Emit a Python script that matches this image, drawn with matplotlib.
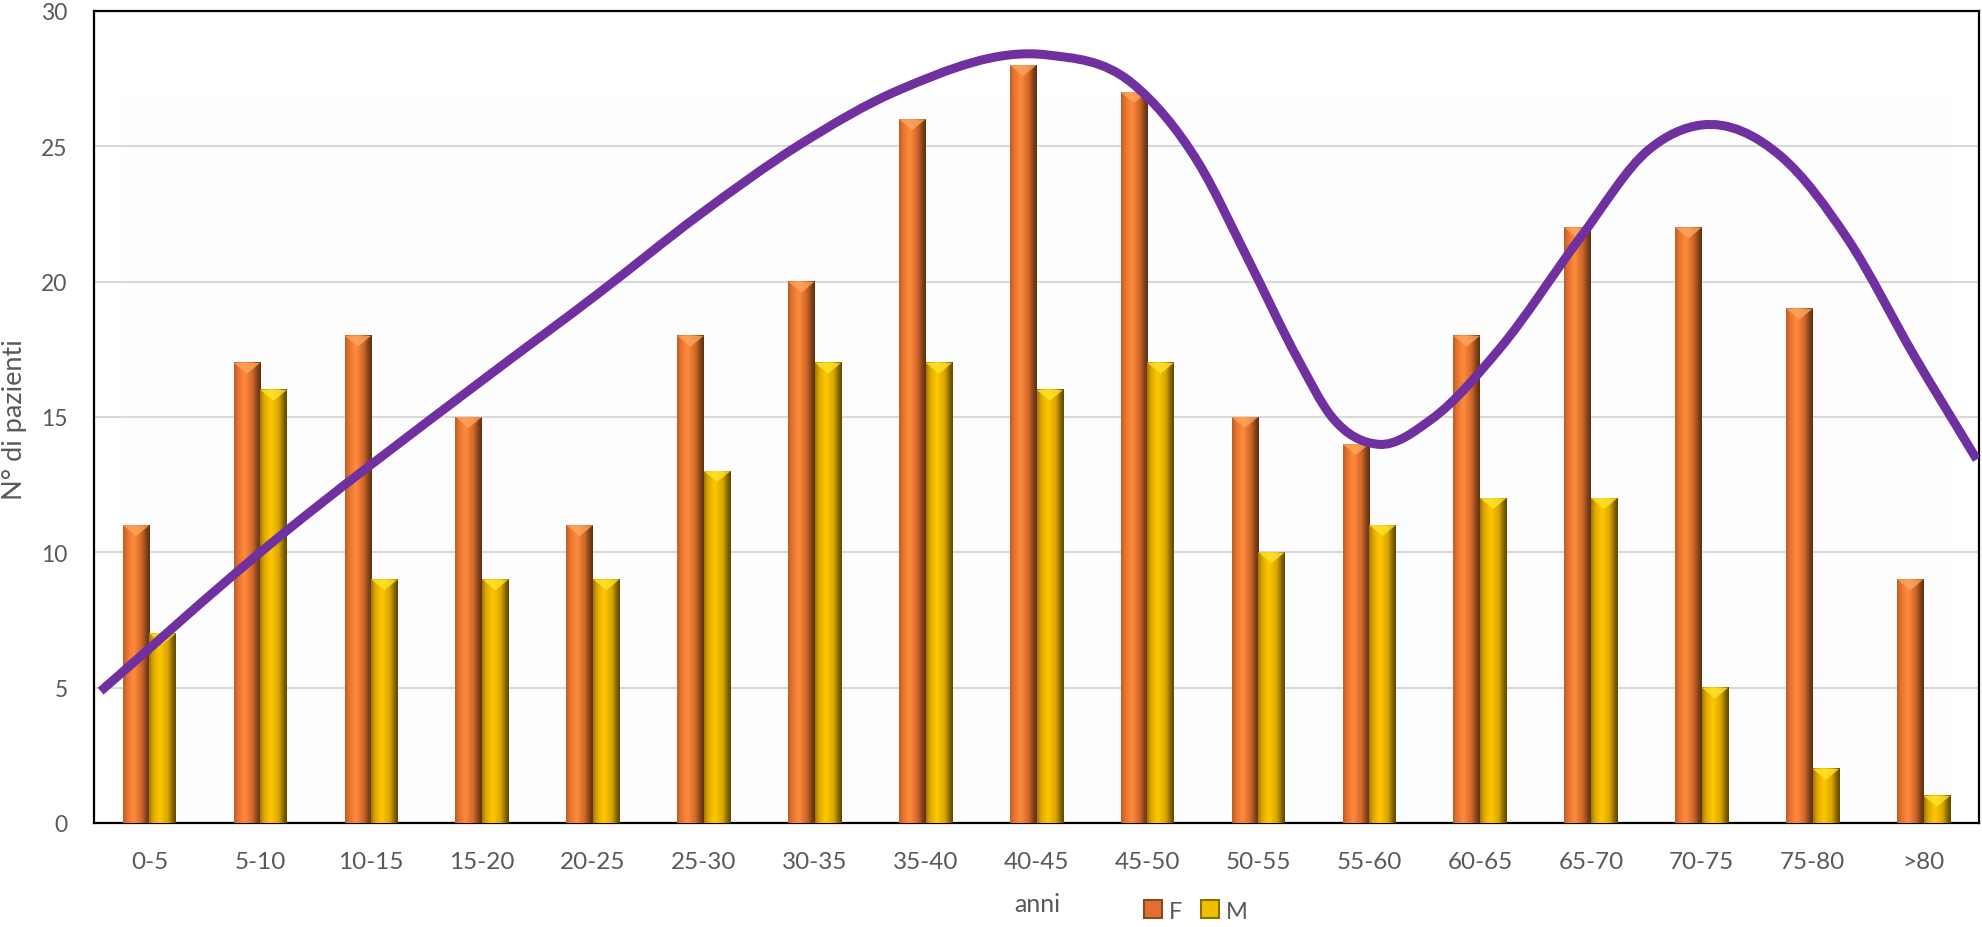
import numpy as np
import matplotlib
matplotlib.use("Agg")
import matplotlib.pyplot as plt
from matplotlib.colors import LinearSegmentedColormap
from matplotlib.path import Path
from matplotlib.patches import PathPatch, Patch, Rectangle, Polygon

# Age groups and patient counts by sex
categories = ['0-5', '5-10', '10-15', '15-20', '20-25', '25-30', '30-35', '35-40',
              '40-45', '45-50', '50-55', '55-60', '60-65', '65-70', '70-75', '75-80', '>80']
female = [11, 17, 18, 15, 11, 18, 20, 26, 28, 27, 15, 14, 18, 22, 22, 19, 9]
male = [7, 16, 9, 9, 9, 13, 17, 17, 16, 17, 10, 11, 12, 12, 5, 2, 1]

# Freehand trend curve knots (x in category units, y in patients)
trend_x = [-0.44, 1.00, 3.01, 4.06, 4.96, 5.86, 6.76, 8.09, 8.86, 9.46, 9.91, 10.36,
           10.66, 11.09, 11.56, 12.17, 12.91, 13.52, 14.00, 14.72, 15.32, 15.92, 16.48]
trend_y = [4.87, 10.0, 16.38, 19.6, 22.47, 25.05, 27.08, 28.38, 27.34, 24.39, 20.81, 17.12,
           15.02, 13.99, 14.91, 17.49, 21.66, 24.87, 25.79, 24.61, 21.55, 17.23, 13.43]

TEXT = '#595959'
plt.rcParams['font.family'] = ['Lato', 'DejaVu Sans']

fig = plt.figure(figsize=(19.82, 9.28), dpi=100)
ax = fig.add_axes([94 / 1982, 1 - 824 / 928, (1979 - 94) / 1982, 812 / 928])

# Cylinder-like shading for the bars
orange_cmap = LinearSegmentedColormap.from_list(
    'orange_cyl', [(0.0, '#B85E2A'), (0.15, '#E8742E'), (0.4, '#FF8C3C'),
                   (0.7, '#D0662A'), (0.9, '#7A3E14'), (1.0, '#5E3010')])
yellow_cmap = LinearSegmentedColormap.from_list(
    'yellow_cyl', [(0.0, '#A07800'), (0.15, '#E0A800'), (0.4, '#FFC800'),
                   (0.7, '#D9A600'), (0.9, '#806000'), (1.0, '#5E4800')])
grad = np.linspace(0, 1, 64).reshape(1, -1)

bar_w = 0.24
x = np.arange(len(categories))


def shaded_bars(xs, heights, cmap, cap_color):
    for xc, h in zip(xs, heights):
        ax.imshow(grad, cmap=cmap, extent=(xc - bar_w / 2, xc + bar_w / 2, 0, h),
                  aspect='auto', interpolation='bicubic', zorder=3)
        # lighter pyramid-shaped cap at the top of each cylinder
        cap = Polygon([(xc - bar_w / 2, h), (xc + bar_w / 2, h), (xc, h - 0.4)],
                      closed=True, facecolor=cap_color, edgecolor='none',
                      alpha=0.75, zorder=4)
        ax.add_patch(cap)


shaded_bars(x - bar_w / 2, female, orange_cmap, '#FFA860')
shaded_bars(x + bar_w / 2, male, yellow_cmap, '#FFE830')

# Faint back wall
ax.add_patch(Rectangle((-0.25, 0), 16.5, 26.9, facecolor='#FDFDFD', edgecolor='none', zorder=0))

# Smooth trend curve: cubic Hermite in x, written as Bezier segments
tx = np.asarray(trend_x)
ty = np.asarray(trend_y)
n = len(tx)
slopes = np.empty(n)
slopes[0] = (ty[1] - ty[0]) / (tx[1] - tx[0])
slopes[-1] = (ty[-1] - ty[-2]) / (tx[-1] - tx[-2])
for i in range(1, n - 1):
    d0 = (ty[i] - ty[i - 1]) / (tx[i] - tx[i - 1])
    d1 = (ty[i + 1] - ty[i]) / (tx[i + 1] - tx[i])
    h0 = tx[i] - tx[i - 1]
    h1 = tx[i + 1] - tx[i]
    slopes[i] = (d0 * h1 + d1 * h0) / (h0 + h1)
verts = [(tx[0], ty[0])]
codes = [Path.MOVETO]
for i in range(n - 1):
    h = tx[i + 1] - tx[i]
    verts += [(tx[i] + h / 3, ty[i] + slopes[i] * h / 3),
              (tx[i + 1] - h / 3, ty[i + 1] - slopes[i + 1] * h / 3),
              (tx[i + 1], ty[i + 1])]
    codes += [Path.CURVE4] * 3
ax.add_patch(PathPatch(Path(verts, codes), facecolor='none', edgecolor='#7030A0',
                       lw=6.5, capstyle='butt', zorder=5))

ax.set_xlim(-0.5, 16.5)
ax.set_ylim(0, 30)
ax.set_yticks(range(0, 31, 5))
ax.set_xticks(x)
ax.set_xticklabels(categories)
ax.tick_params(axis='both', length=0, colors=TEXT)
ax.tick_params(axis='x', labelsize=17.5, pad=20)
ax.tick_params(axis='y', labelsize=16.5, pad=19)
ax.yaxis.grid(True, color='#D9D9D9', lw=1.5, zorder=1)
ax.set_axisbelow(True)
for side in ['left', 'top', 'right', 'bottom']:
    ax.spines[side].set_color('black')
    ax.spines[side].set_linewidth(1.6)

fig.text(1037 / 1982, 1 - 905 / 928, 'anni', ha='center', va='center', fontsize=18, color=TEXT)
fig.text(15 / 1982, 1 - 420 / 928, 'N° di pazienti', ha='center', va='center',
         rotation=90, fontsize=19.5, color=TEXT)

handles = [Patch(facecolor='#E07030', edgecolor='#8A4A1A', lw=1.5),
           Patch(facecolor='#F0C000', edgecolor='#8A7000', lw=1.5)]
fig.legend(handles, ['F', 'M'], ncol=2, loc='center',
           bbox_to_anchor=(1196 / 1982, 1 - 912 / 928), frameon=False,
           fontsize=17, labelcolor=TEXT, handlelength=0.75, handleheight=0.8,
           handletextpad=0.3, columnspacing=0.8)

fig.savefig('out.png', dpi=100)
